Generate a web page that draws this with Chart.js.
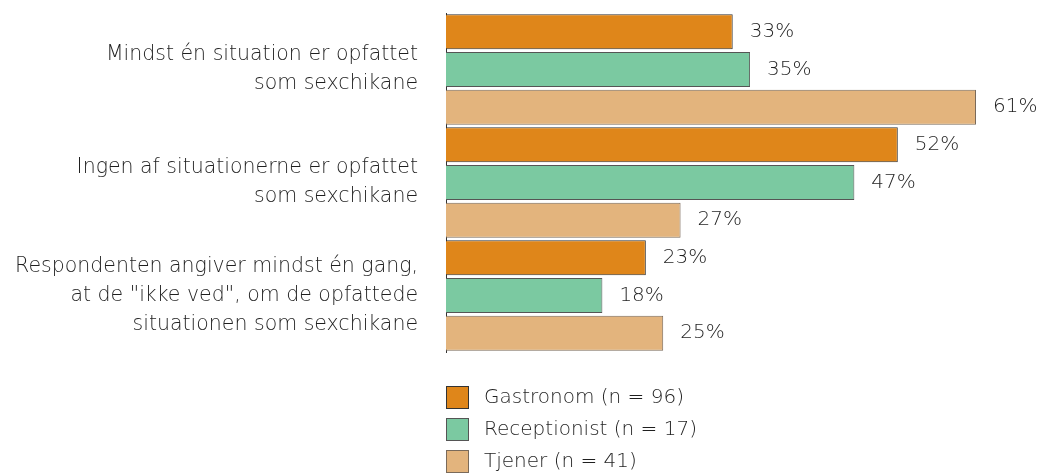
<!DOCTYPE html>
<html>
<head>
<meta charset="utf-8">
<script src="https://cdn.jsdelivr.net/npm/chart.js@4.4.0/dist/chart.umd.min.js"></script>
<style>
  html, body { margin: 0; padding: 0; background: #fff; }
  #wrap { width: 1037px; height: 473px; position: relative; }
</style>
</head>
<body>
<div id="wrap"><canvas id="chart"></canvas></div>
<script>
// categories (multi-line labels)
const categories = [
    ['Mindst én situation er opfattet', 'som sexchikane'],
    ['Ingen af situationerne er opfattet', 'som sexchikane'],
    ['Respondenten angiver mindst én gang,', 'at de "ikke ved", om de opfattede', 'situationen som sexchikane']
];
const seriesNames = ['Gastronom (n = 96)', 'Receptionist (n = 17)', 'Tjener (n = 41)'];
const gastronom = [33, 52, 23];
const receptionist = [35, 47, 18];
const tjener = [61, 27, 25];

const fontFamily = '"DejaVu Sans", sans-serif';
const fontWeight = 300;
const textColor = '#1f1f1f';

// value labels to the right of each bar
const valueLabels = {
    id: 'valueLabels',
    afterDatasetsDraw(chart) {
        const ctx = chart.ctx;
        ctx.save();
        ctx.font = fontWeight + ' 20px ' + fontFamily;
        ctx.fillStyle = textColor;
        ctx.textAlign = 'left';
        ctx.textBaseline = 'middle';
        chart.data.datasets.forEach((ds, i) => {
            chart.getDatasetMeta(i).data.forEach((bar, j) => {
                ctx.fillText(ds.data[j] + '%', bar.x + 17, bar.y);
            });
        });
        ctx.restore();
    }
};

// vertical legend under the bars
const sideLegend = {
    id: 'sideLegend',
    afterDraw(chart) {
        const ctx = chart.ctx;
        const left = chart.chartArea.left;
        ctx.save();
        ctx.font = fontWeight + ' 20px ' + fontFamily;
        ctx.textBaseline = 'middle';
        chart.data.datasets.forEach((ds, i) => {
            const y = 386 + i * 32;
            ctx.fillStyle = ds.backgroundColor;
            ctx.fillRect(left + 0.5, y + 0.5, 22, 22);
            ctx.strokeStyle = ds.borderColor;
            ctx.lineWidth = 1;
            ctx.strokeRect(left + 0.5, y + 0.5, 22, 22);
            ctx.fillStyle = textColor;
            ctx.fillText(ds.label, left + 38, y + 12);
        });
        ctx.restore();
    }
};

const ctx = document.getElementById('chart').getContext('2d');
new Chart(ctx, {
    type: 'bar',
    data: {
        labels: categories,
        datasets: [
            { label: seriesNames[0], data: gastronom, backgroundColor: '#DF861A', borderColor: '#333333', borderWidth: 1 },
            { label: seriesNames[1], data: receptionist, backgroundColor: '#7BC9A1', borderColor: '#555555', borderWidth: 1 },
            { label: seriesNames[2], data: tjener, backgroundColor: '#E3B47D', borderColor: '#7a6a5a', borderWidth: 1 }
        ]
    },
    options: {
        indexAxis: 'y',
        responsive: true,
        maintainAspectRatio: false,
        animation: false,
        layout: { padding: { top: 13, bottom: 121, right: 61, left: 0 } },
        datasets: { bar: { barPercentage: 0.93, categoryPercentage: 1.0 } },
        plugins: { legend: { display: false }, tooltip: { enabled: false } },
        scales: {
            x: { display: false, min: 0, max: 61 },
            y: {
                afterFit(scale) {
                    scale.width = 446;
                    scale.paddingTop = 0;
                    scale.paddingBottom = 0;
                },
                grid: { display: false, drawTicks: false },
                border: { display: true, color: '#333', width: 1 },
                ticks: {
                    padding: 28,
                    color: textColor,
                    font: { family: fontFamily, weight: fontWeight, size: 20.5, lineHeight: 1.42 }
                }
            }
        }
    },
    plugins: [valueLabels, sideLegend]
});
</script>
</body>
</html>
